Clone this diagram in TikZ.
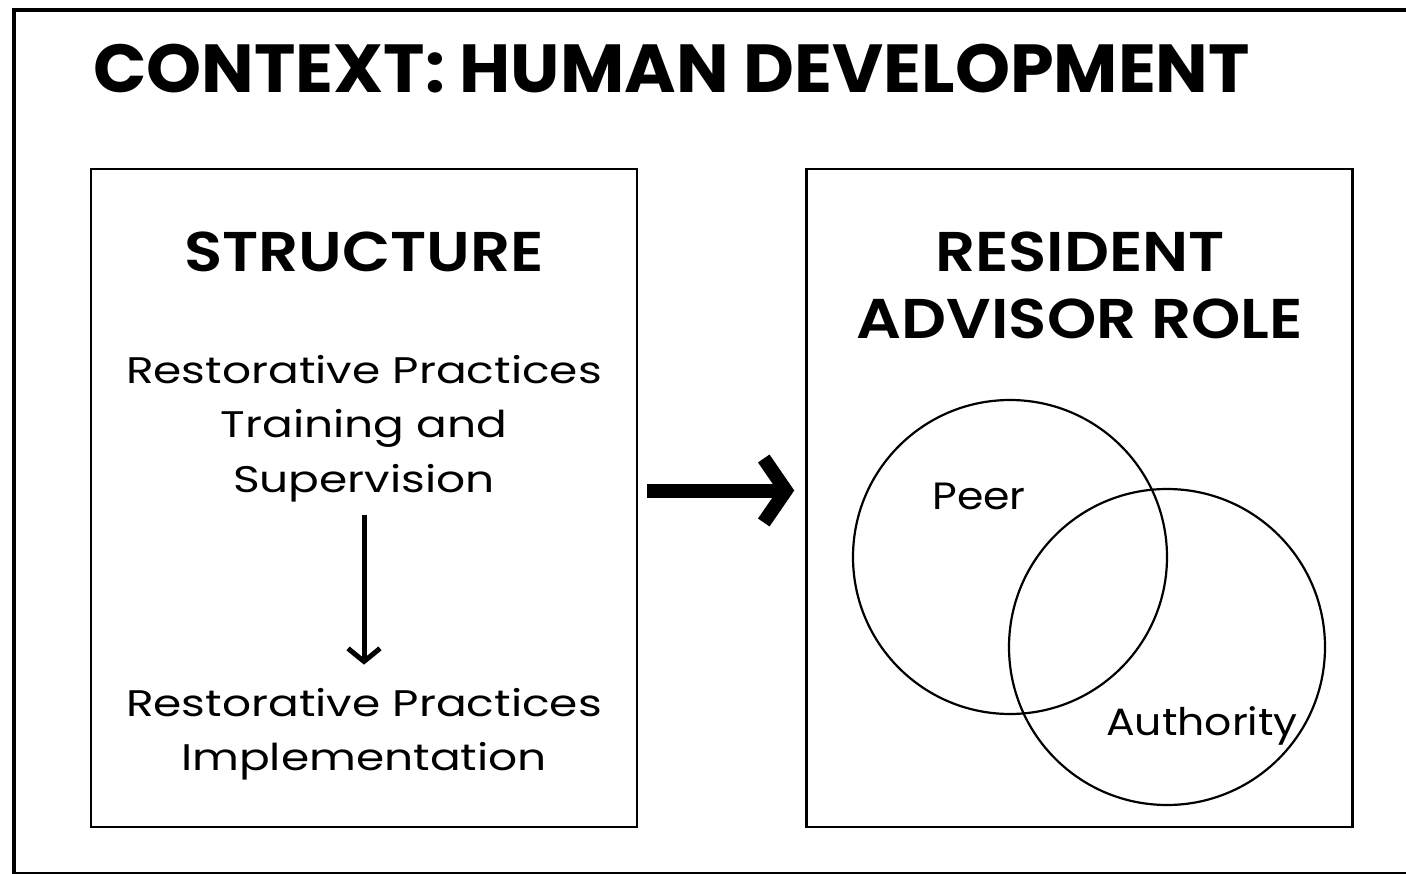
\documentclass[tikz,border=0pt]{standalone}
\usepackage{fontspec}
\setmainfont{Poppins}
\newfontfamily\titlefont[FakeStretch=1.03]{Poppins}
\newfontfamily\headfont[FakeStretch=1.12]{Poppins SemiBold}
\newfontfamily\bodyfont[FakeStretch=1.23]{Poppins}
\newfontfamily\labelfont[FakeStretch=1.12]{Poppins}
\usetikzlibrary{arrows.meta}
\begin{document}
\begin{tikzpicture}[x=1pt,y=-1pt,
  outerframe/.style={draw=black,line width=4.5pt,minimum width=1396pt,minimum height=864.5pt,inner sep=0pt},
  panel/.style={draw=black,line width=2.5pt,minimum width=546pt,minimum height=658pt,inner sep=0pt},
  ring/.style={draw=black,circle,line width=2.2pt,inner sep=0pt},
  titletext/.style={inner sep=0pt,font=\titlefont\fontsize{68}{80}\selectfont\bfseries},
  headtext/.style={inner sep=0pt,align=center,font=\headfont\fontsize{56}{67}\selectfont},
  bodytext/.style={inner sep=0pt,align=center,font=\bodyfont\fontsize{37}{54}\selectfont},
  labeltext/.style={inner sep=0pt,font=\labelfont\fontsize{38}{46}\selectfont},
  bigarrow/.style={line width=14pt,-{Straight Barb[length=22pt,width=64pt]},shorten <=9pt,shorten >=11pt},
  smallarrow/.style={line width=5pt,-{Straight Barb[length=13pt,width=32pt]}}
]
\useasboundingbox (0,0) rectangle (1406,874);
\clip (0,0) rectangle (1406,874);
\node[outerframe] (outer) at (712,442.25) {};
\node[titletext,anchor=base west] (title) at (93,93) {CONTEXT: HUMAN DEVELOPMENT};
\node[panel] (lbox) at (364,498) {};
\node[panel] (rbox) at (1079.5,498) {};
\node[headtext,anchor=base] (structure) at (364,272) {STRUCTURE};
\node[bodytext,anchor=base] (train) at (364,492) {Restorative Practices\\Training and\\Supervision};
\node[bodytext,anchor=base] (impl) at (364,770) {Restorative Practices\\Implementation};
\draw[smallarrow,shorten <=13pt,shorten >=23pt] (train.south) -- (impl.north);
\node[headtext,anchor=base] (ra) at (1080,339) {RESIDENT\\ADVISOR ROLE};
\node[ring,minimum size=314pt] (peer) at (1010,557) {};
\node[ring,minimum size=316pt] (auth) at (1167,647) {};
\node[labeltext,anchor=base] (peerlbl) at (979,509) {Peer};
\node[labeltext,anchor=base] (authlbl) at (1202,735) {Authority};
\draw[bigarrow] ([yshift=7.5pt]lbox.east) -- ([yshift=7.5pt]rbox.west);
\end{tikzpicture}
\end{document}
